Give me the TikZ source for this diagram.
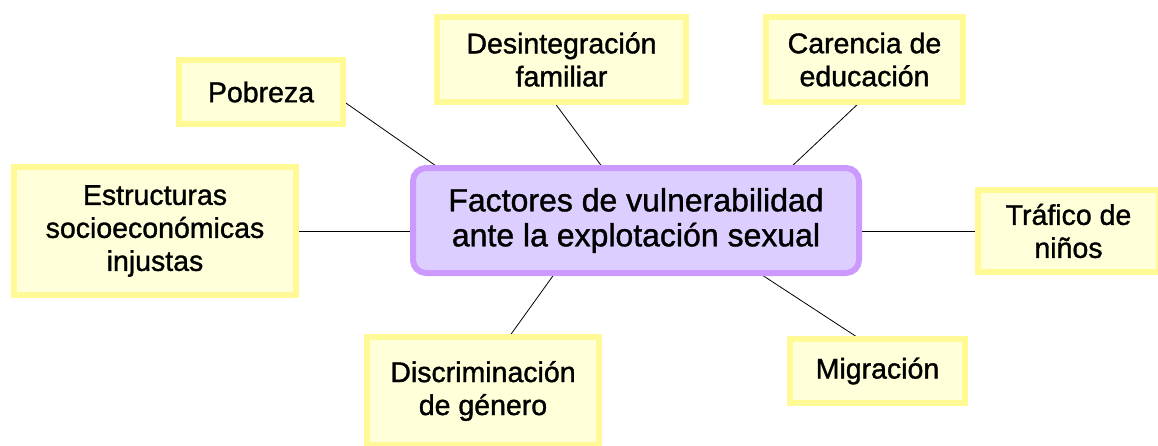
\documentclass[tikz,border=0pt]{standalone}
\usepackage{fontspec}
\setmainfont{Liberation Sans}[FakeBold=1.2]
\usetikzlibrary{backgrounds}
\definecolor{fbdraw}{RGB}{255,249,150}
\definecolor{fbfill}{RGB}{255,255,217}
\definecolor{cndraw}{RGB}{204,153,255}
\definecolor{cnfill}{RGB}{220,206,255}
\begin{document}
\begin{tikzpicture}[x=1pt,y=-1pt,
    fb/.style={shape=rectangle,draw=fbdraw,fill=fbfill,line width=6pt,outer sep=0pt,
      inner sep=0pt,align=center,font=\fontsize{28.5}{33}\selectfont},
    cn/.style={shape=rectangle,rounded corners=13pt,draw=cndraw,fill=cnfill,line width=6pt,
      outer sep=0pt,inner sep=0pt,align=center,font=\fontsize{32}{35}\selectfont,
      minimum width=446pt,minimum height=105pt}]
    \useasboundingbox (0,0) rectangle (1158,445);

    \node[cn] (fac) at (636,220.5) {Factores de vulnerabilidad\\ante la explotación sexual};
    \node[fb,minimum width=164pt,minimum height=64pt] (pob) at (261,92) {Pobreza};
    \node[fb,minimum width=249pt,minimum height=85pt] (des) at (561.5,59.5) {Desintegración\\familiar};
    \node[fb,minimum width=197pt,minimum height=85pt] (car) at (864.5,59.5) {Carencia de\\educación};
    \node[fb,minimum width=282pt,minimum height=128pt] (est) at (155,231) {Estructuras\\socioeconómicas\\injustas};
    \node[fb,minimum width=181pt,minimum height=82pt] (tra) at (1068.5,231) {Tráfico de\\niños};
    \node[fb,minimum width=232pt,minimum height=108pt] (dis) at (483,391) {Discriminación\\de género};
    \node[fb,minimum width=175pt,minimum height=64pt] (mig) at (877.5,371) {Migración};

    \begin{scope}[on background layer]
    \path[draw=black,line width=0.8pt] ([yshift=-9pt]pob.east) edge ([xshift=26pt]fac.north west);
    \path[draw=black,line width=0.8pt] ([xshift=-7.5pt]des.south) edge ([xshift=-33pt]fac.north);
    \path[draw=black,line width=0.8pt] ([xshift=-4.5pt]car.south) edge ([xshift=-69pt]fac.north east);
    \path[draw=black,line width=0.8pt] (est.east) edge (est.east -| fac.west);
    \path[draw=black,line width=0.8pt] (tra.west) edge (tra.west -| fac.east);
    \path[draw=black,line width=0.8pt] ([xshift=26pt]dis.north) edge ([xshift=-81pt]fac.south);
    \path[draw=black,line width=0.8pt] ([xshift=-17.5pt]mig.north) edge ([xshift=-100pt]fac.south east);
    \end{scope}

  \end{tikzpicture}
\end{document}
